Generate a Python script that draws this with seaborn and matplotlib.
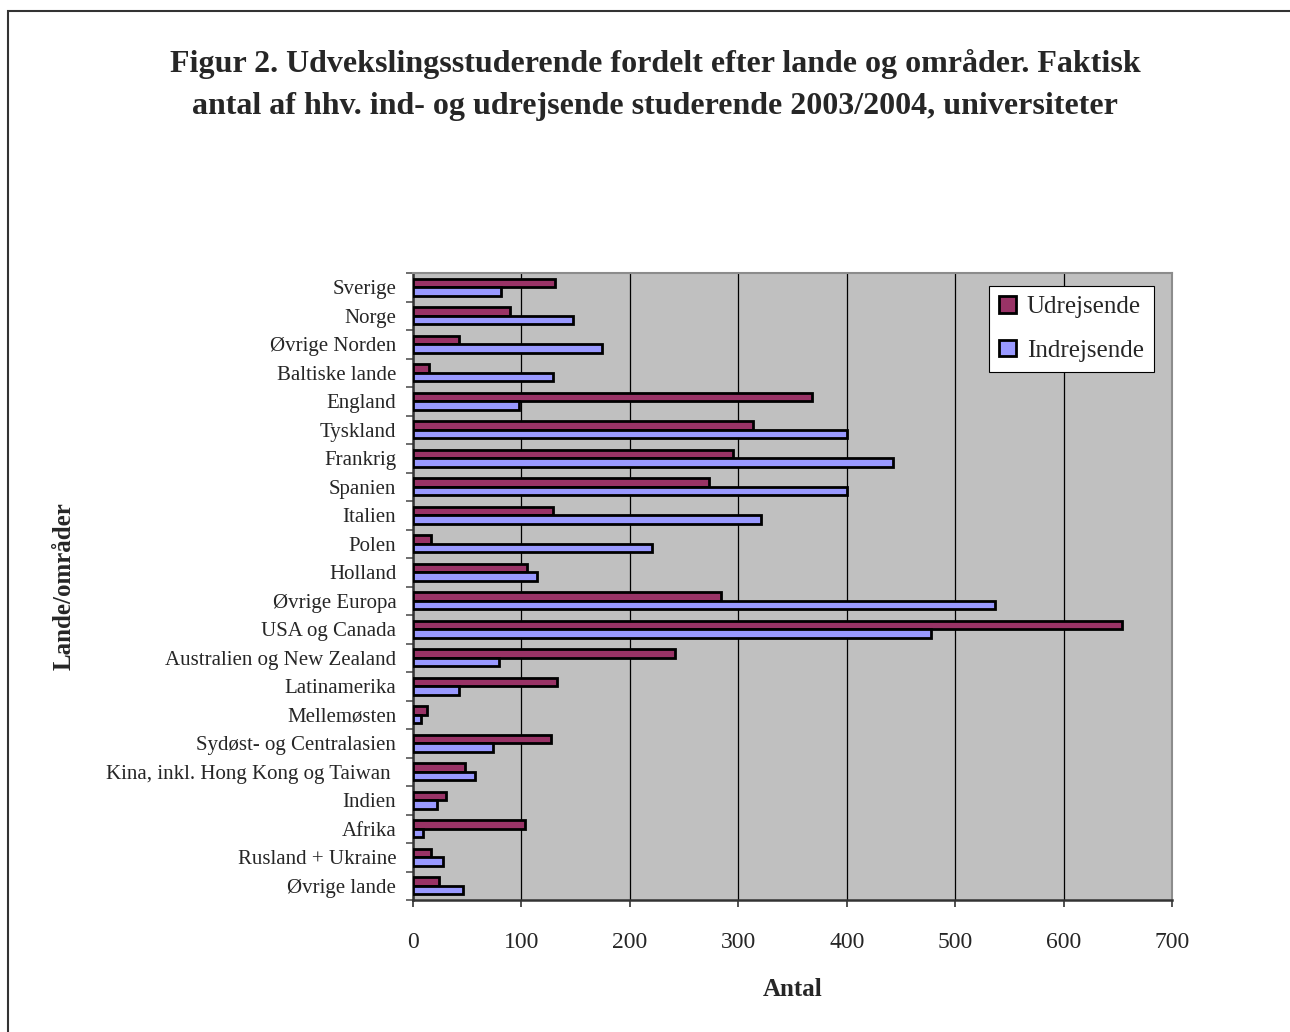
import numpy as np
import pandas as pd
import matplotlib
matplotlib.use("Agg")
import matplotlib.pyplot as plt
import seaborn as sns
from matplotlib.patches import Rectangle
from matplotlib.ticker import FixedLocator

lande = ["Sverige", "Norge", "Øvrige Norden", "Baltiske lande", "England",
         "Tyskland", "Frankrig", "Spanien", "Italien", "Polen", "Holland",
         "Øvrige Europa", "USA og Canada", "Australien og New Zealand",
         "Latinamerika", "Mellemøsten", "Sydøst- og Centralasien",
         "Kina, inkl. Hong Kong og Taiwan ", "Indien", "Afrika",
         "Rusland + Ukraine", "Øvrige lande"]
udrejsende = [131, 89, 42, 15, 368, 314, 295, 273, 129, 17, 105, 284, 654,
              242, 133, 13, 127, 48, 30, 103, 17, 24]
indrejsende = [81, 148, 174, 129, 98, 400, 443, 400, 321, 220, 114, 537, 478,
               79, 42, 7, 74, 57, 22, 9, 28, 46]
serier = ["Udrejsende", "Indrejsende"]
farver = ["#993366", "#9999FF"]

df = pd.DataFrame({"land": lande, "Udrejsende": udrejsende,
                   "Indrejsende": indrejsende})
df = df.melt(id_vars="land", var_name="serie", value_name="antal")

sns.set_style("white")
plt.rcParams["font.family"] = ["Liberation Serif", "DejaVu Serif"]

fig = plt.figure(figsize=(12.9, 10.32), dpi=100)
ax = fig.add_axes([413 / 1290, 1 - 900 / 1032, 759 / 1290, 627 / 1032])
ax.set_facecolor("#C0C0C0")

sns.barplot(data=df, y="land", x="antal", hue="serie", order=lande,
            hue_order=serier, palette=farver, orient="h", width=0.6,
            edgecolor="black", linewidth=2, saturation=1, ax=ax, zorder=3)

ax.set_xlim(0, 700)
ax.set_ylim(len(lande) - 0.5, -0.5)
ax.set_xticks(range(0, 701, 100))
ax.xaxis.grid(True, color="black", linewidth=0.9, zorder=1)
ax.set_axisbelow(True)
ax.tick_params(axis="x", which="major", direction="out", length=5, width=1.2,
               color="#333333", pad=18, labelsize=17, bottom=True)
ax.tick_params(axis="y", which="major", length=0, pad=12, labelsize=15)
ax.yaxis.set_minor_locator(FixedLocator(np.arange(-0.5, len(lande), 1)))
ax.tick_params(axis="y", which="minor", direction="out", length=5, width=1.2,
               color="#555555", left=True)

for s in ["top", "right"]:
    ax.spines[s].set_color("#8C8C8C")
    ax.spines[s].set_linewidth(1.5)
for s in ["left", "bottom"]:
    ax.spines[s].set_color("#333333")
    ax.spines[s].set_linewidth(1.8)

ax.set_xlabel("Antal", fontsize=18, fontweight="bold", labelpad=18)
ax.set_ylabel("Lande/områder", fontsize=18, fontweight="bold", labelpad=22)

leg = ax.legend(loc="upper right", bbox_to_anchor=(0.976, 0.979),
                borderaxespad=0, fontsize=18, handlelength=0.65,
                handleheight=0.65, handletextpad=0.45, labelspacing=0.85,
                borderpad=0.4, frameon=True, fancybox=False, framealpha=1,
                edgecolor="black")
leg.get_frame().set_linewidth(0.8)

fig.text(0.508, 1 - 85 / 1032,
         "Figur 2. Udvekslingsstuderende fordelt efter lande og områder. Faktisk\n"
         "antal af hhv. ind- og udrejsende studerende 2003/2004, universiteter",
         ha="center", va="center", fontsize=23, fontweight="bold",
         linespacing=1.55)

fig.patches.append(Rectangle((8 / 1290, -0.1), 1.2, 1 - 11 / 1032 + 0.1,
                             transform=fig.transFigure, fill=False,
                             edgecolor="#333333", linewidth=1.5))

fig.savefig("out.png", dpi=100)
